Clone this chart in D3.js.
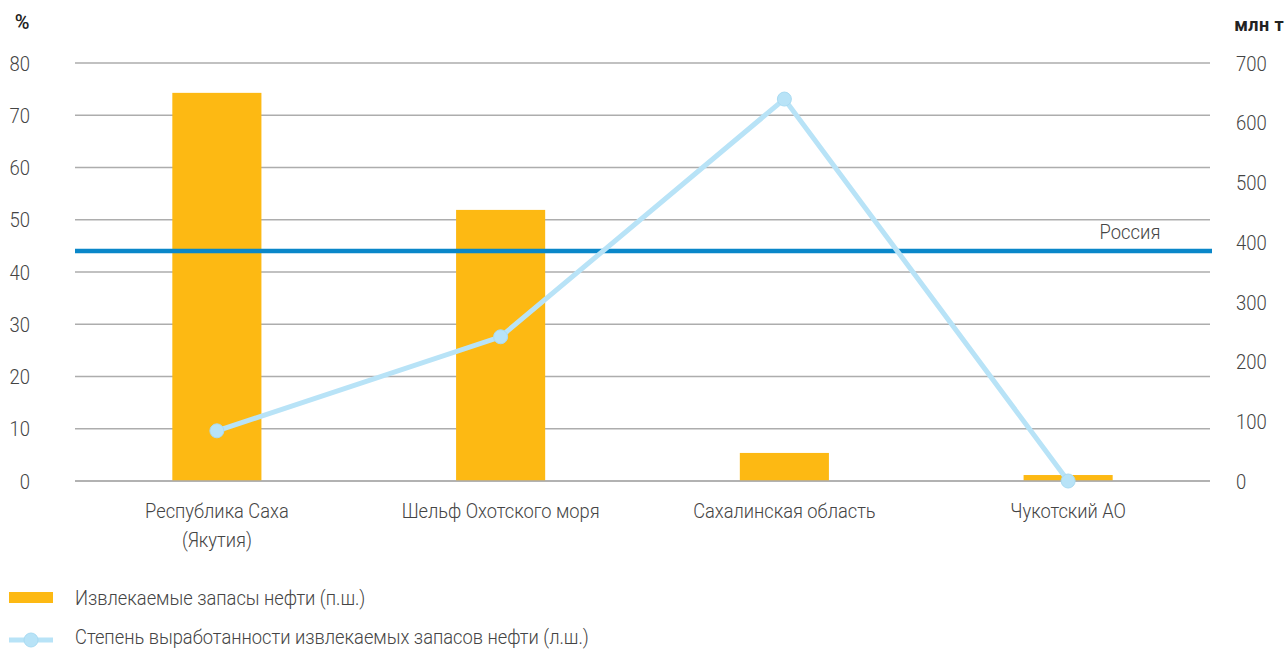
<!DOCTYPE html>
<html>
<head>
<meta charset="utf-8">
<script src="https://cdn.jsdelivr.net/npm/d3@7"></script>
<style>
  html, body { margin: 0; padding: 0; background: #fff; }
  svg { display: block; font-family: Roboto, "Noto Sans", sans-serif; }
</style>
</head>
<body>
<svg id="chart" width="1285" height="649"></svg>
<script>
// Regions (category axis)
const categories = [
  ["Республика Саха", "(Якутия)"],
  ["Шельф Охотского моря"],
  ["Сахалинская область"],
  ["Чукотский АО"]
];
// Recoverable oil reserves, mln t (right axis)
const reserves = [650, 454, 47, 10];
// Depletion of recoverable reserves, % (left axis)
const depletion = [9.6, 27.6, 73.1, 0];
// Russia average depletion, %
const russiaLevel = 44;
const russiaLabel = "Россия";
const leftTicks = [0, 10, 20, 30, 40, 50, 60, 70, 80];
const rightTicks = [0, 100, 200, 300, 400, 500, 600, 700];
const leftUnit = "%";
const rightUnit = "млн т";
const legendLabels = [
  "Извлекаемые запасы нефти (п.ш.)",
  "Степень выработанности извлекаемых запасов нефти (л.ш.)"
];

const svg = d3.select("#chart");
const plotLeft = 75, plotRight = 1210, plotTop = 63, plotBottom = 481;
const textColor = "#444444";
const barColor = "#fdb913";
const lineColor = "#b8e3f7";
const gridColor = "#adadad";
const textWeight = 300;

// narrow text: Roboto squeezed horizontally to a condensed face
function narrowText(sel, x, y, size, sx, anchor) {
  return sel.append("text")
    .attr("transform", `translate(${x},${y}) scale(${sx},1)`)
    .attr("text-anchor", anchor || "start")
    .attr("fill", textColor)
    .style("font-weight", textWeight)
    .style("font-size", size + "px");
}

const x = d3.scaleBand().domain(d3.range(categories.length)).range([plotLeft, plotRight]).padding(0);
const yL = d3.scaleLinear().domain([0, 80]).range([plotBottom, plotTop]);
const yR = d3.scaleLinear().domain([0, 700]).range([plotBottom, plotTop]);
const cx = i => x(i) + x.bandwidth() / 2;

// gridlines on left-axis ticks
svg.append("g").selectAll("line").data(leftTicks).join("line")
  .attr("x1", plotLeft).attr("x2", plotRight)
  .attr("y1", d => yL(d)).attr("y2", d => yL(d))
  .attr("stroke", gridColor).attr("stroke-width", 1.4);

// left axis labels
const gL = svg.append("g").attr("transform", `translate(30,0)`)
  .call(d3.axisLeft(yL).tickValues(leftTicks).tickSize(0).tickPadding(0));
gL.select(".domain").remove();
gL.selectAll("text").attr("fill", textColor).attr("dy", "0.34em")
  .attr("transform", "scale(0.88,1)")
  .style("font-size", "21px").style("font-family", "Roboto").style("font-weight", textWeight);

// right axis labels
const gR = svg.append("g").attr("transform", `translate(1236,0)`)
  .call(d3.axisRight(yR).tickValues(rightTicks).tickSize(0).tickPadding(0));
gR.select(".domain").remove();
gR.selectAll("text").attr("fill", textColor).attr("dy", "0.34em")
  .attr("transform", "scale(0.88,1)")
  .style("font-size", "21px").style("font-family", "Roboto").style("font-weight", textWeight);

// unit labels
svg.append("text").attr("x", 22).attr("y", 29).attr("text-anchor", "middle")
  .attr("fill", "#222").style("font-size", "20px").style("font-weight", "500").text(leftUnit);
svg.append("text").attr("x", 1284).attr("y", 31).attr("text-anchor", "end")
  .attr("fill", "#222").style("font-size", "18px").style("font-weight", "700")
  .style("letter-spacing", "0.4px").text(rightUnit);

// bars
const barW = x.bandwidth() * 0.314;
svg.append("g").selectAll("rect").data(reserves).join("rect")
  .attr("x", (d, i) => cx(i) - barW / 2)
  .attr("width", barW)
  .attr("y", d => yR(d))
  .attr("height", d => yR(0) - yR(d))
  .attr("fill", barColor);

// baseline redrawn over the bars
svg.append("line").attr("x1", plotLeft).attr("x2", plotRight)
  .attr("y1", yL(0)).attr("y2", yL(0))
  .attr("stroke", gridColor).attr("stroke-width", 1.4);

// Russia level
svg.append("line").attr("x1", plotLeft).attr("x2", 1212)
  .attr("y1", yL(russiaLevel)).attr("y2", yL(russiaLevel))
  .attr("stroke", "#0a87c9").attr("stroke-width", 4.5);
narrowText(svg, 1130, yL(russiaLevel) - 12, 20, 0.92, "middle").text(russiaLabel);

// depletion line
const line = d3.line().x((d, i) => cx(i)).y(d => yL(d));
svg.append("path").datum(depletion).attr("d", line)
  .attr("fill", "none").attr("stroke", lineColor).attr("stroke-width", 5);
svg.append("g").selectAll("circle").data(depletion).join("circle")
  .attr("cx", (d, i) => cx(i)).attr("cy", d => yL(d)).attr("r", 7)
  .attr("fill", lineColor).attr("stroke", "#a9dbf2").attr("stroke-width", 1);

// category labels
const catG = svg.append("g");
categories.forEach((lines, i) => {
  lines.forEach((s, j) => {
    narrowText(catG, cx(i), 518 + j * 29, 21, 0.87, "middle").text(s);
  });
});

// legend
const lg = svg.append("g");
lg.append("rect").attr("x", 9).attr("y", 592).attr("width", 44).attr("height", 11).attr("fill", barColor);
narrowText(lg, 75, 605, 19.5, 0.94).text(legendLabels[0]);
lg.append("line").attr("x1", 9).attr("x2", 53).attr("y1", 640).attr("y2", 640)
  .attr("stroke", lineColor).attr("stroke-width", 5);
lg.append("circle").attr("cx", 31).attr("cy", 640).attr("r", 7)
  .attr("fill", lineColor).attr("stroke", "#a9dbf2").attr("stroke-width", 1);
narrowText(lg, 75, 644, 19.5, 0.94).text(legendLabels[1]);
</script>
</body>
</html>
